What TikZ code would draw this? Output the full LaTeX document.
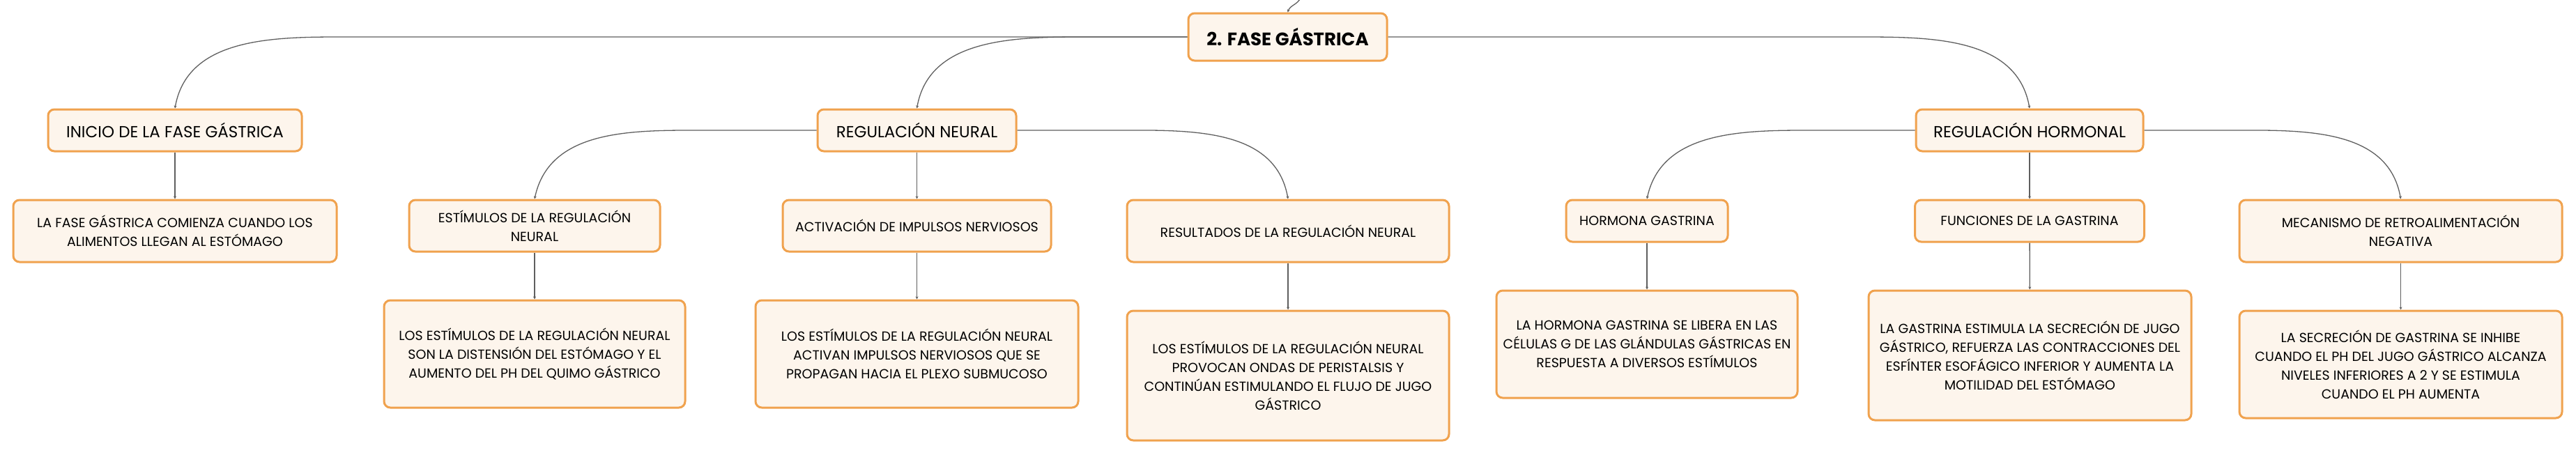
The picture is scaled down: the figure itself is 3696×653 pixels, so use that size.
\documentclass[tikz,border=0pt]{standalone}
\usepackage{fontspec}
\setmainfont{Poppins}
\usepackage{tikz}
\usetikzlibrary{positioning}
\usetikzlibrary{arrows.meta}
\usetikzlibrary{calc}

\definecolor{boxfill}{RGB}{253,245,236}
\definecolor{boxline}{RGB}{240,162,78}
\definecolor{linkgray}{RGB}{95,95,95}

\begin{document}
\begin{tikzpicture}[x=1pt, y=1pt,
    caja/.style={draw=boxline, fill=boxfill, line width=3pt, rounded corners=9pt,
                 align=center, inner sep=0pt, font=\fontsize{19}{27}\selectfont},
    rama/.style={caja, font=\fontsize{23}{28}\selectfont},
    titulo/.style={caja, font=\fontsize{26}{30}\selectfont\bfseries},
    enlace/.style={draw=linkgray, line width=1.3pt, -{Stealth[length=4pt,width=4pt]}}]

  \useasboundingbox (0,0) rectangle (3696,-653);

  %draw root
  \node[titulo, minimum width=285pt, minimum height=68pt] (fase) at (1847.5,-53) {2. FASE GÁSTRICA};
  \coordinate (arriba) at (1866,3);

  %second level
  \foreach \x/\w/\name/\txt in {251/364/inicio/{INICIO DE LA FASE GÁSTRICA},
                                1315.5/285/neural/{REGULACIÓN NEURAL},
                                2912/326/hormonal/{REGULACIÓN HORMONAL}}{
      \node[rama, minimum width=\w pt, minimum height=60pt] (\name) at (\x,-187) {\txt};
  }

  %third level
  \foreach \x/\y/\w/\h/\name/\txt in {
      251/331.5/464/89/inicioT/{LA FASE GÁSTRICA COMIENZA CUANDO LOS\\ALIMENTOS LLEGAN AL ESTÓMAGO},
      767/324/360/74/estimulos/{ESTÍMULOS DE LA REGULACIÓN\\NEURAL},
      1315.5/324/385/74/activacion/{ACTIVACIÓN DE IMPULSOS NERVIOSOS},
      1848/331.5/462/89/resultados/{RESULTADOS DE LA REGULACIÓN NEURAL},
      2363/317/232/60/hormona/{HORMONA GASTRINA},
      2912/317/329/60/funciones/{FUNCIONES DE LA GASTRINA},
      3444.5/331.5/463/89/mecanismo/{MECANISMO DE RETROALIMENTACIÓN\\NEGATIVA}}{
      \node[caja, minimum width=\w pt, minimum height=\h pt] (\name) at (\x,-\y) {\txt};
  }

  %texts
  \foreach \x/\y/\w/\h/\name/\txt in {
      767/508/432/154/estimulosT/{LOS ESTÍMULOS DE LA REGULACIÓN NEURAL\\SON LA DISTENSIÓN DEL ESTÓMAGO Y EL\\AUMENTO DEL PH DEL QUIMO GÁSTRICO},
      1315.5/508/463/154/activacionT/{LOS ESTÍMULOS DE LA REGULACIÓN NEURAL\\ACTIVAN IMPULSOS NERVIOSOS QUE SE\\PROPAGAN HACIA EL PLEXO SUBMUCOSO},
      1848/539/462/186/resultadosT/{LOS ESTÍMULOS DE LA REGULACIÓN NEURAL\\PROVOCAN ONDAS DE PERISTALSIS Y\\CONTINÚAN ESTIMULANDO EL FLUJO DE JUGO\\GÁSTRICO},
      2363/494/432/154/hormonaT/{LA HORMONA GASTRINA SE LIBERA EN LAS\\CÉLULAS G DE LAS GLÁNDULAS GÁSTRICAS EN\\RESPUESTA A DIVERSOS ESTÍMULOS},
      2912.5/510/463/186/funcionesT/{LA GASTRINA ESTIMULA LA SECRECIÓN DE JUGO\\GÁSTRICO, REFUERZA LAS CONTRACCIONES DEL\\ESFÍNTER ESOFÁGICO INFERIOR Y AUMENTA LA\\MOTILIDAD DEL ESTÓMAGO},
      3444.5/523/463/154/mecanismoT/{LA SECRECIÓN DE GASTRINA SE INHIBE\\CUANDO EL PH DEL JUGO GÁSTRICO ALCANZA\\NIVELES INFERIORES A 2 Y SE ESTIMULA\\CUANDO EL PH AUMENTA}}{
      \node[caja, minimum width=\w pt, minimum height=\h pt] (\name) at (\x,-\y) {\txt};
  }

  %curved links
  \draw[enlace] (arriba) to[out=-115,in=70] (fase.north);
  \foreach \src/\dst/\dx/\o/\ang in {fase.west/inicio/237/180/80,
                                     fase.west/neural/235/180/80,
                                     fase.east/hormonal/-243/0/100,
                                     neural.west/estimulos/250/180/78,
                                     neural.east/resultados/-255/0/100,
                                     hormonal.west/hormona/227/180/78,
                                     hormonal.east/mecanismo/-255/0/100}{
      \draw[enlace] (\src) -- ($(\dst.north |- \src)+(\dx,0)$) to[out=\o,in=\ang] (\dst.north);
  }

  %straight links
  \foreach \a/\b in {inicio/inicioT, neural/activacion, activacion/activacionT,
                     estimulos/estimulosT, resultados/resultadosT, hormona/hormonaT,
                     hormonal/funciones, funciones/funcionesT, mecanismo/mecanismoT}{
      \draw[enlace] (\a) -- (\b);
  }

\end{tikzpicture}
\end{document}
